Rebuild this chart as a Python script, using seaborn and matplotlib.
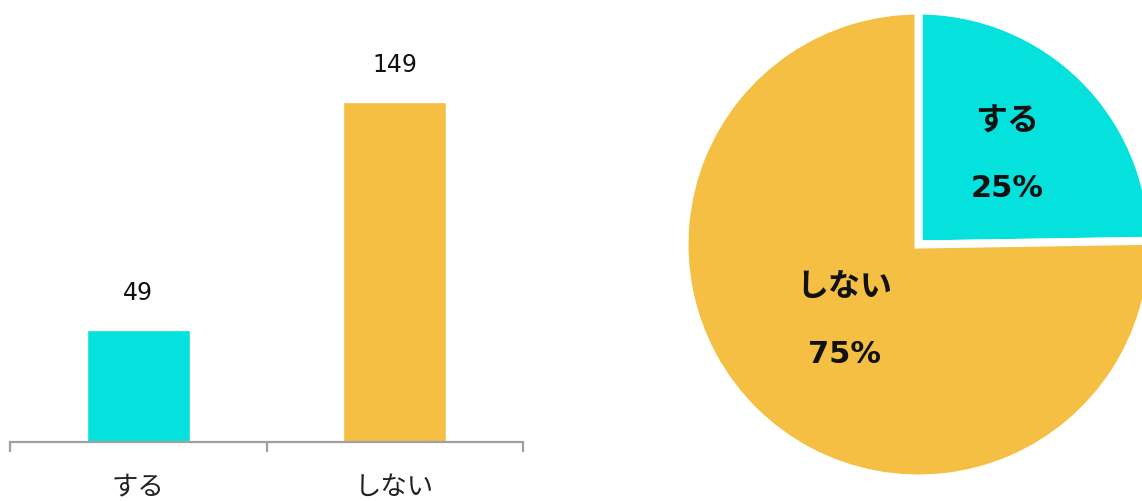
import numpy as np
import matplotlib
matplotlib.use("Agg")
import matplotlib.pyplot as plt
import seaborn as sns

# data
categories = ["する", "しない"]
counts = [49, 149]
colors = ["#05E1DC", "#F4BF42"]

sns.set_style("white")
# digits in DejaVu (wider, like the original), kana fall back to Noto CJK
plt.rcParams['font.family'] = ['DejaVu Sans', 'Noto Sans CJK JP']

fig = plt.figure(figsize=(11.42, 5.02), dpi=100)

# bar chart (left)
ax = fig.add_axes([10 / 1142, 59 / 502, 513 / 1142, 422 / 502])
sns.barplot(x=categories, y=counts, hue=categories, palette=colors,
            width=0.4, legend=False, ax=ax, saturation=1)
ax.set_xlim(-0.5, 1.5)
ax.set_ylim(0, 185)
for c in ax.containers:
    ax.bar_label(c, padding=19, fontsize=17, color="#111111")

sns.despine(ax=ax, left=True)
ax.spines['bottom'].set_color("#A0A0A0")
ax.spines['bottom'].set_linewidth(1.6)
ax.set_yticks([])
ax.set_ylabel("")
ax.set_xticks([-0.5, 0.5, 1.5])
ax.set_xticklabels(["", "", ""])
ax.tick_params(axis='x', which='major', direction='out', length=7,
               width=1.6, color="#A0A0A0", bottom=True)
ax.set_xticks([0, 1], minor=True)
ax.set_xticklabels(categories, minor=True, fontsize=19, color="#222222")
ax.tick_params(axis='x', which='minor', length=0, pad=23)

# pie chart (right)
R = 234
cx, cy = 918.5, 245.5
pax = fig.add_axes([(cx - R) / 1142, (502 - cy - R) / 502, 2 * R / 1142, 2 * R / 502])
shares = np.array(counts) / sum(counts)
wedges, _ = pax.pie(shares, colors=colors, startangle=90, counterclock=False,
                    wedgeprops=dict(edgecolor="white", linewidth=5.8))
pax.set_xlim(-1, 1)
pax.set_ylim(-1, 1)
pax.set_aspect('equal')

label_r = [0.54, 0.45]
for w, name, s, r in zip(wedges, categories, shares, label_r):
    ang = np.deg2rad((w.theta1 + w.theta2) / 2)
    x, y = r * np.cos(ang), r * np.sin(ang)
    pax.text(x, y + 0.143, name, ha='center', va='center',
             fontsize=23, fontweight='bold', color="#111111")
    pax.text(x, y - 0.143, f"{s:.0%}", ha='center', va='center',
             fontsize=22, fontweight='bold', color="#111111")

fig.savefig("out.png", dpi=100)
